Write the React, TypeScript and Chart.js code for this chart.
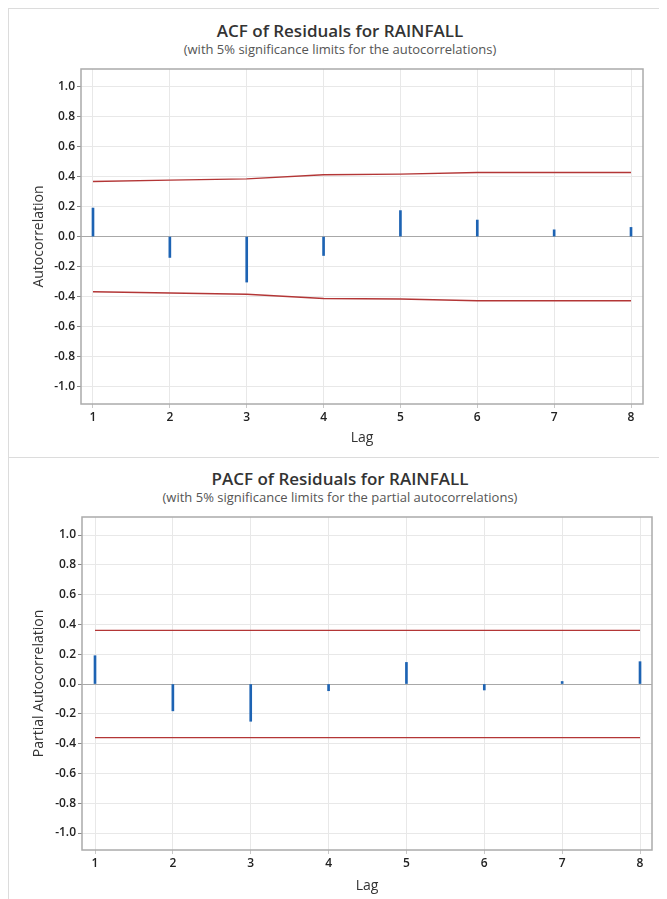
import React, { useEffect, useRef } from "react";
import { Chart, registerables } from "chart.js";

Chart.register(...registerables);

const LAGS = [1, 2, 3, 4, 5, 6, 7, 8];
const Y_TICKS = [-1.0, -0.8, -0.6, -0.4, -0.2, 0.0, 0.2, 0.4, 0.6, 0.8, 1.0];

const ACF_VALUES = [0.19, -0.139, -0.303, -0.126, 0.173, 0.11, 0.045, 0.061];
const ACF_UPPER = [0.367, 0.376, 0.384, 0.412, 0.416, 0.427, 0.427, 0.427];
const ACF_LOWER = [-0.367, -0.376, -0.384, -0.412, -0.416, -0.427, -0.427, -0.427];

const PACF_VALUES = [0.19, -0.18, -0.25, -0.045, 0.145, -0.04, 0.017, 0.15];
const PACF_UPPER = [0.36, 0.36, 0.36, 0.36, 0.36, 0.36, 0.36, 0.36];
const PACF_LOWER = [-0.36, -0.36, -0.36, -0.36, -0.36, -0.36, -0.36, -0.36];

const FONT = "'Open Sans', 'Noto Sans', sans-serif";

const framePlugin = {
  id: "frame",
  afterDraw(chart: any) {
    const { ctx, chartArea } = chart;
    ctx.save();
    ctx.strokeStyle = "#ababab";
    ctx.lineWidth = 1.5;
    ctx.strokeRect(chartArea.left, chartArea.top, chartArea.right - chartArea.left, chartArea.bottom - chartArea.top);
    ctx.restore();
  },
};

type PanelProps = {
  title: string;
  subtitle: string;
  yTitle: string;
  values: number[];
  upper: number[];
  lower: number[];
  height: number;
  padTop: number;
  padRight: number;
  yWidth: number;
  xHeight: number;
  yTitlePad: number;
  xTitlePad: number;
  yMin: number;
  yMax: number;
  xMin: number;
  xMax: number;
  titleTop: number;
  subTop: number;
};

function Panel(p: PanelProps) {
  const ref = useRef<HTMLCanvasElement | null>(null);
  useEffect(() => {
    if (!ref.current) return;
    const chart = new Chart(ref.current, {
      type: "bar",
      data: {
        datasets: [
          {
            type: "bar",
            data: LAGS.map((l, i) => ({ x: l, y: p.values[i] })),
            backgroundColor: "#1d63b3",
            barThickness: 2,
            order: 2,
          } as any,
          {
            type: "line",
            data: LAGS.map((l, i) => ({ x: l, y: p.upper[i] })),
            borderColor: "#b33636",
            borderWidth: 1.4,
            pointRadius: 0,
            tension: 0,
            order: 1,
          } as any,
          {
            type: "line",
            data: LAGS.map((l, i) => ({ x: l, y: p.lower[i] })),
            borderColor: "#b33636",
            borderWidth: 1.4,
            pointRadius: 0,
            tension: 0,
            order: 1,
          } as any,
        ],
      },
      options: {
        animation: false,
        responsive: true,
        maintainAspectRatio: false,
        layout: { padding: { top: p.padTop, right: p.padRight, left: 0, bottom: 0 } },
        plugins: { legend: { display: false }, tooltip: { enabled: false }, title: { display: false } },
        scales: {
          x: {
            type: "linear",
            min: p.xMin,
            max: p.xMax,
            offset: false,
            afterBuildTicks: (s: any) => {
              s.ticks = LAGS.map((v) => ({ value: v }));
            },
            afterFit: (s: any) => {
              s.height = p.xHeight;
            },
            ticks: {
              autoSkip: false,
              maxRotation: 0,
              padding: 2,
              color: "#222",
              font: { family: FONT, size: 12, weight: "600" as any },
              callback: (v: any) => String(v),
            },
            grid: { offset: false, color: "#e8e8e8", lineWidth: 1, tickLength: 4, tickColor: "#c8c8c8", drawTicks: true },
            border: { display: false },
            title: {
              display: true,
              text: "Lag",
              color: "#333",
              font: { family: FONT, size: 14 },
              padding: { top: 0, bottom: p.xTitlePad },
            },
          },
          y: {
            type: "linear",
            min: p.yMin,
            max: p.yMax,
            afterBuildTicks: (s: any) => {
              s.ticks = Y_TICKS.map((v) => ({ value: v }));
            },
            afterFit: (s: any) => {
              s.width = p.yWidth;
            },
            ticks: {
              padding: 2,
              color: "#222",
              font: { family: FONT, size: 12, weight: "600" as any },
              callback: (v: any) => Number(v).toFixed(1),
            },
            grid: {
              color: (c: any) => (c.tick && Math.abs(c.tick.value) < 1e-9 ? "#a8a8a8" : "#e8e8e8"),
              lineWidth: 1,
              tickLength: 4,
              tickColor: "#888",
            },
            border: { display: false },
            title: {
              display: true,
              text: p.yTitle,
              color: "#333",
              font: { family: FONT, size: 14 },
              padding: { top: p.yTitlePad, bottom: 0 },
            },
          },
        },
      },
      plugins: [framePlugin],
    });
    return () => chart.destroy();
  }, []);

  return (
    <div
      style={{
        position: "relative",
        width: 659,
        height: p.height,
        boxSizing: "border-box",
        borderLeft: "1px solid #dcdcdc",
        borderTop: "1px solid #dcdcdc",
        fontFamily: FONT,
      }}
    >
      <div
        style={{
          position: "absolute",
          left: 2,
          width: 658,
          top: p.titleTop,
          textAlign: "center",
          fontSize: 17,
          lineHeight: "20px",
          fontWeight: 600,
          color: "#333",
          whiteSpace: "nowrap",
        }}
      >
        {p.title}
      </div>
      <div
        style={{
          position: "absolute",
          left: 2,
          width: 658,
          top: p.subTop,
          textAlign: "center",
          fontSize: 13,
          lineHeight: "16px",
          color: "#555",
          whiteSpace: "nowrap",
        }}
      >
        {p.subtitle}
      </div>
      <div style={{ position: "absolute", left: 0, top: 0, width: 658, height: p.height - 1 }}>
        <canvas ref={ref} />
      </div>
    </div>
  );
}

export default function App() {
  return (
    <div>
      <Panel
        title="ACF of Residuals for RAINFALL"
        subtitle="(with 5% significance limits for the autocorrelations)"
        yTitle="Autocorrelation"
        values={ACF_VALUES}
        upper={ACF_UPPER}
        lower={ACF_LOWER}
        height={449}
        padTop={60}
        padRight={24}
        yWidth={72}
        xHeight={53}
        yTitlePad={22}
        xTitlePad={11}
        yMin={-1.115}
        yMax={1.116}
        xMin={0.844}
        xMax={8.156}
        titleTop={12}
        subTop={32}
      />
      <Panel
        title="PACF of Residuals for RAINFALL"
        subtitle="(with 5% significance limits for the partial autocorrelations)"
        yTitle="Partial Autocorrelation"
        values={PACF_VALUES}
        upper={PACF_UPPER}
        lower={PACF_LOWER}
        height={442}
        padTop={59}
        padRight={15}
        yWidth={73}
        xHeight={49}
        yTitlePad={22}
        xTitlePad={5}
        yMin={-1.114}
        yMax={1.121}
        xMin={0.833}
        xMax={8.154}
        titleTop={11}
        subTop={31}
      />
    </div>
  );
}
